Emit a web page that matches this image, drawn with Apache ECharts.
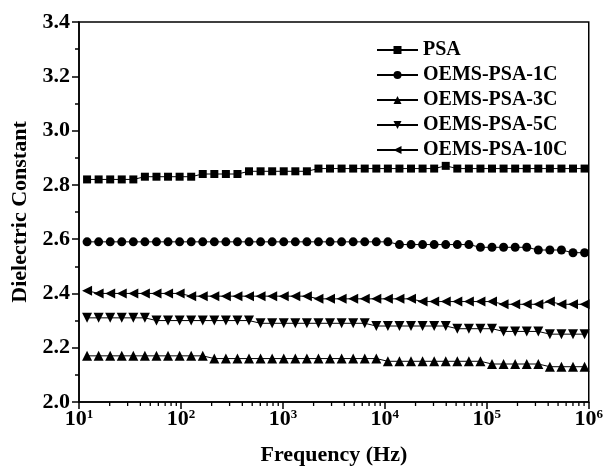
<!DOCTYPE html>
<html>
<head>
<meta charset="utf-8">
<script src="https://cdn.jsdelivr.net/npm/echarts@6/dist/echarts.min.js"></script>
<style>
  html, body { margin: 0; padding: 0; background: #fff; }
  #chart { width: 606px; height: 474px; }
</style>
</head>
<body>
<div id="chart"></div>
<script>
// frequency sweep (Hz)
const freq = [12.0, 15.58, 20.23, 26.27, 34.11, 44.30, 57.53, 74.70, 97.03, 126.0,
  163.6, 212.5, 275.9, 358.3, 465.3, 604.2, 784.6, 1019, 1324, 1719,
  2232, 2899, 3765, 4889, 6349, 8246, 10709, 13907, 18060, 23454,
  30458, 39554, 51367, 66708, 86630, 112500, 146100, 189740, 246400, 320000,
  415540, 539640, 700800, 910100]

const psa = [2.82, 2.82, 2.82, 2.82, 2.82, 2.83, 2.83, 2.83, 2.83, 2.83,
  2.84, 2.84, 2.84, 2.84, 2.85, 2.85, 2.85, 2.85, 2.85, 2.85,
  2.86, 2.86, 2.86, 2.86, 2.86, 2.86, 2.86, 2.86, 2.86, 2.86,
  2.86, 2.87, 2.86, 2.86, 2.86, 2.86, 2.86, 2.86, 2.86, 2.86,
  2.86, 2.86, 2.86, 2.86]

const psa1C = [2.59, 2.59, 2.59, 2.59, 2.59, 2.59, 2.59, 2.59, 2.59, 2.59,
  2.59, 2.59, 2.59, 2.59, 2.59, 2.59, 2.59, 2.59, 2.59, 2.59,
  2.59, 2.59, 2.59, 2.59, 2.59, 2.59, 2.59, 2.58, 2.58, 2.58,
  2.58, 2.58, 2.58, 2.58, 2.57, 2.57, 2.57, 2.57, 2.57, 2.56,
  2.56, 2.56, 2.55, 2.55]

const psa3C = [2.17, 2.17, 2.17, 2.17, 2.17, 2.17, 2.17, 2.17, 2.17, 2.17,
  2.17, 2.16, 2.16, 2.16, 2.16, 2.16, 2.16, 2.16, 2.16, 2.16,
  2.16, 2.16, 2.16, 2.16, 2.16, 2.16, 2.15, 2.15, 2.15, 2.15,
  2.15, 2.15, 2.15, 2.15, 2.15, 2.14, 2.14, 2.14, 2.14, 2.14,
  2.13, 2.13, 2.13, 2.13]

const psa5C = [2.31, 2.31, 2.31, 2.31, 2.31, 2.31, 2.30, 2.30, 2.30, 2.30,
  2.30, 2.30, 2.30, 2.30, 2.30, 2.29, 2.29, 2.29, 2.29, 2.29,
  2.29, 2.29, 2.29, 2.29, 2.29, 2.28, 2.28, 2.28, 2.28, 2.28,
  2.28, 2.28, 2.27, 2.27, 2.27, 2.27, 2.26, 2.26, 2.26, 2.26,
  2.25, 2.25, 2.25, 2.25]

const psa10C = [2.41, 2.40, 2.40, 2.40, 2.40, 2.40, 2.40, 2.40, 2.40, 2.39,
  2.39, 2.39, 2.39, 2.39, 2.39, 2.39, 2.39, 2.39, 2.39, 2.39,
  2.38, 2.38, 2.38, 2.38, 2.38, 2.38, 2.38, 2.38, 2.38, 2.37,
  2.37, 2.37, 2.37, 2.37, 2.37, 2.37, 2.36, 2.36, 2.36, 2.36,
  2.37, 2.36, 2.36, 2.36]

const names = ['PSA', 'OEMS-PSA-1C', 'OEMS-PSA-3C', 'OEMS-PSA-5C', 'OEMS-PSA-10C']
const values = [psa, psa1C, psa3C, psa5C, psa10C]
const symbols = ['rect', 'circle', 'triangle', 'triangle', 'triangle']
const rotations = [0, 0, 0, 180, 90]
const sizes = [8, 9, 10, 10, 10]

// minor ticks of the log axis: 2..9 in each decade
const decades = [10, 100, 1000, 10000, 100000]
const minorTicks = []
decades.forEach(d => { for (let k = 2; k <= 9; k++) minorTicks.push(d * k) })

const font = 'Liberation Serif, Times New Roman, serif'

const chart = echarts.init(document.getElementById('chart'))

const lineSeries = names.map((name, s) => ({
  name: name,
  type: 'line',
  data: freq.map((f, i) => [f, values[s][i]]),
  symbol: symbols[s],
  symbolSize: sizes[s],
  symbolRotate: rotations[s],
  showSymbol: true,
  itemStyle: { color: '#000' },
  lineStyle: { color: '#000', width: 1 }
}))

// short marks under the x axis line at the minor tick values
const minorTickSeries = {
  type: 'custom',
  name: 'minor',
  clip: false,
  silent: true,
  z: 10,
  data: minorTicks.map(v => [v, 2.0]),
  renderItem: (params, api) => {
    const p = api.coord([api.value(0), api.value(1)])
    return {
      type: 'line',
      shape: { x1: p[0], y1: p[1], x2: p[0], y2: p[1] + 4 },
      style: { stroke: '#000', lineWidth: 1.3 }
    }
  }
}

chart.setOption({
  animation: false,
  backgroundColor: '#fff',
  grid: {
    left: 79, right: 13, top: 22, bottom: 72,
    show: true, borderColor: '#000', borderWidth: 1.5
  },
  legend: {
    data: names,
    orient: 'vertical',
    left: 371,
    top: 35,
    itemWidth: 41,
    itemHeight: 10,
    itemGap: 5,
    textStyle: { fontFamily: font, fontWeight: 'bold', fontSize: 20, color: '#000', lineHeight: 20 }
  },
  xAxis: {
    type: 'log',
    logBase: 10,
    min: 10,
    max: 1000000,
    name: 'Frequency (Hz)',
    nameLocation: 'middle',
    nameGap: 42,
    nameTextStyle: { fontFamily: font, fontWeight: 'bold', fontSize: 22, color: '#000' },
    axisLine: { lineStyle: { color: '#000', width: 1.5 } },
    axisTick: { length: 7, lineStyle: { color: '#000', width: 1.5 } },
    splitLine: { show: false },
    axisLabel: {
      margin: 6,
      formatter: v => '{b|10}{s|' + Math.round(Math.log10(v)) + '}',
      rich: {
        b: { fontFamily: font, fontWeight: 'bold', fontSize: 22, color: '#000' },
        s: { fontFamily: font, fontWeight: 'bold', fontSize: 13, color: '#000', verticalAlign: 'top', padding: [0, 0, 9, 0] }
      }
    }
  },
  yAxis: {
    type: 'value',
    min: 2.0,
    max: 3.4,
    interval: 0.2,
    name: 'Dielectric Constant',
    nameLocation: 'middle',
    nameGap: 42,
    nameTextStyle: { fontFamily: font, fontWeight: 'bold', fontSize: 22, color: '#000' },
    axisLine: { show: true, lineStyle: { color: '#000', width: 1.5 } },
    axisTick: { show: true, length: 7, lineStyle: { color: '#000', width: 1.5 } },
    minorTick: { show: true, splitNumber: 2, length: 4, lineStyle: { color: '#000', width: 1.5 } },
    splitLine: { show: false },
    axisLabel: {
      margin: 9,
      formatter: v => v.toFixed(1),
      fontFamily: font, fontWeight: 'bold', fontSize: 22, color: '#000'
    }
  },
  series: [...lineSeries, minorTickSeries]
})
</script>
</body>
</html>
